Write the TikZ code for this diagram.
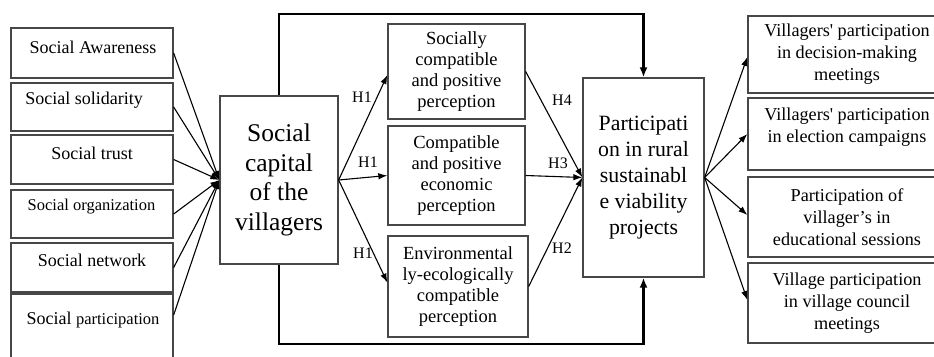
\documentclass[tikz,border=0pt]{standalone}
\usepackage{fontspec}
\setmainfont{Liberation Serif}[Ligatures=TeXOff]
\usetikzlibrary{arrows.meta}
\begin{document}
\begin{tikzpicture}[x=1pt,y=-1pt,
  box/.style={draw=black!72,line width=1.3pt,inner sep=0pt,align=center},
  conn/.style={line width=1.1pt,-{Latex[length=9pt,width=6.5pt]}},
  loopline/.style={line width=2.2pt,-{Latex[length=10pt,width=8pt]}},
  hlab/.style={font=\fontsize{16}{16}\selectfont},
  lt/.style={font=\fontsize{18}{21}\selectfont,inner sep=0pt},
  mt/.style={font=\fontsize{18.5}{21}\selectfont},
  rt/.style={font=\fontsize{18.2}{22}\selectfont},
]
\useasboundingbox (0,0) rectangle (934,356);
\begin{scope}
\clip (0,0) rectangle (934,356);
% left boxes
\node[box,minimum width=162,minimum height=50] (A) at (92,53) {};
\node[box,minimum width=162,minimum height=48] (B) at (92,107) {};
\node[box,minimum width=162,minimum height=49] (C) at (92,159.5) {};
\node[box,minimum width=162,minimum height=48] (D) at (92,214) {};
\node[box,minimum width=162,minimum height=49] (E) at (92,267.5) {};
\node[box,minimum width=162,minimum height=66] (F) at (92,327) {};
\node[lt] (tA) at (93,47) {Social Awareness};
\node[lt] (tB) at (84,100) {Social solidarity};
\node[lt] (tC) at (92,153) {Social trust};
\node[lt,font=\fontsize{16.5}{19}\selectfont] (tD) at (91.5,207) {Social organization};
\node[lt] (tE) at (92,260) {Social network};
\node[lt] (tF) at (93,320) {Social {\fontsize{16.5}{19}\selectfont participation}};
% central boxes
\node[box,minimum width=118,minimum height=168,font=\fontsize{25.5}{29.5}\selectfont] (cap) at (279,180) {Social\\capital\\of the\\villagers};
\node[box,minimum width=137,minimum height=95,mt] (soc) at (456.5,71.5) {Socially\\compatible\\and positive\\perception};
\node[box,minimum width=137,minimum height=99,mt] (eco) at (456.5,175.5) {Compatible\\and positive\\economic\\perception};
\node[box,minimum width=140,minimum height=101,mt] (env) at (458,286.5) {Environmental\\ly-ecologically\\compatible\\perception};
\node[box,minimum width=121,minimum height=199,font=\fontsize{21.8}{26}\selectfont] (part) at (643.5,177.5) {Participati\\on in rural\\sustainabl\\e viability\\projects};
% right boxes
\node[box,minimum width=198,minimum height=77,rt] (R1) at (847,54.5) {Villagers' participation\\in decision-making\\meetings};
\node[box,minimum width=198,minimum height=72] (R2) at (847,134) {};
\node[rt,align=center] (tR2) at (847,127) {Villagers' participation\\in election campaigns};
\node[box,minimum width=198,minimum height=80,rt] (R3) at (847,217) {Participation of\\villager’s in\\educational sessions};
\node[box,minimum width=198,minimum height=80,rt] (R4) at (847,303) {Village participation\\in village council\\meetings};
% left connectors
\foreach \n in {A,B,C,D,E} \draw[conn] (\n.east) -- (cap.west);
\draw[conn] ([yshift=12pt]F.east) -- (cap.west);
% hypotheses
\draw[conn] (cap.east) -- ([yshift=-3.5pt]soc.west);
\draw[conn] (cap.east) -- (eco.west);
\draw[conn] (cap.east) -- ([yshift=4pt]env.west);
\draw[conn] (soc.east) -- (part.west);
\draw[conn] (eco.east) -- (part.west);
\draw[conn] (env.east) -- (part.west);
\node[hlab] (h1a) at (362,97) {H1};
\node[hlab] (h1b) at (368,162) {H1};
\node[hlab] (h1c) at (363,253) {H1};
\node[hlab] (h4) at (562,100) {H4};
\node[hlab] (h3) at (558,163) {H3};
\node[hlab] (h2) at (562,248) {H2};
% right connectors
\draw[conn] (part.east) -- ([yshift=-2.5pt]R1.west);
\draw[conn] (part.east) -- (R2.west);
\draw[conn] (part.east) -- ([yshift=2pt]R3.west);
\draw[conn] (part.east) -- ([yshift=3pt]R4.west);
% loops
\draw[loopline] (cap.north) -- ++(0,-81) -| (part.north);
\draw[loopline] (cap.south) -- ++(0,79) -| (part.south);
\end{scope}
\end{tikzpicture}
\end{document}
